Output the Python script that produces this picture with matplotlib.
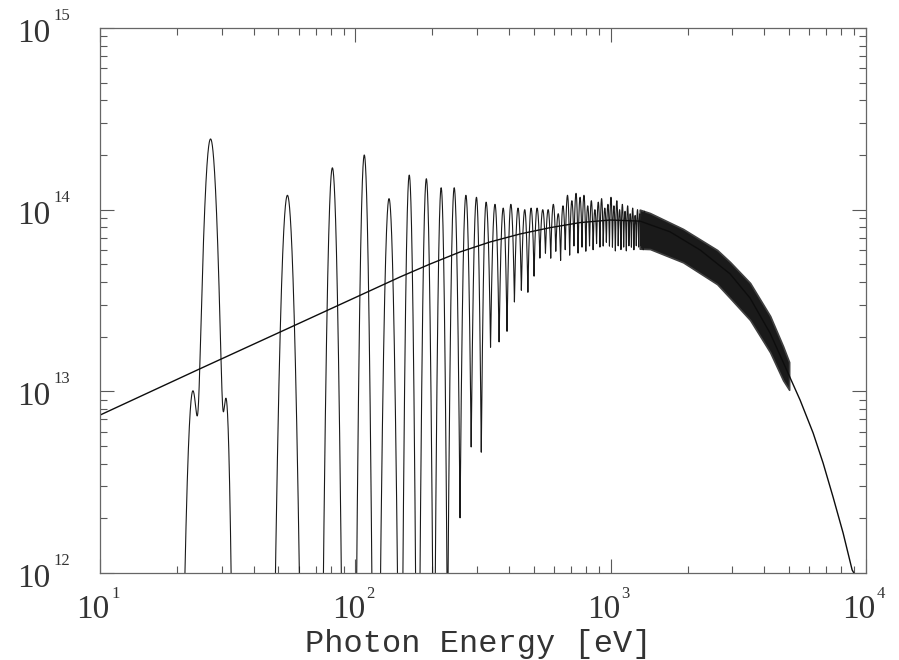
import numpy as np
import matplotlib
matplotlib.use("Agg")
import matplotlib.pyplot as plt
from matplotlib.ticker import LogLocator, NullFormatter

nan = np.nan

# undulator: fundamental photon energy [eV] and the harmonics drawn one by one
e_fund = 27.1
harmonics = np.arange(1, 53)

# peak flux of every harmonic
peak_flux = [2.45e14, 1.20e14, 1.70e14, 2.00e14, 1.15e14, 1.55e14, 1.48e14, 1.32e14, 1.32e14, 1.20e14,
             1.17e14, 1.10e14, 1.07e14, 1.02e14, 1.07e14, 1.02e14, 1.00e14, 1.02e14, 1.02e14, 1.00e14,
             1.00e14, 1.07e14, 9.5e13, 1.05e14, 1.20e14, 1.12e14, 1.23e14, 1.17e14, 1.20e14, 1.05e14,
             1.12e14, 1.00e14, 1.10e14, 1.15e14, 1.02e14, 1.07e14, 1.17e14, 1.05e14, 1.12e14, 1.00e14,
             1.07e14, 9.8e13, 1.05e14, 9.5e13, 1.02e14, 9.3e13, 1.00e14, 9.5e13, 9.1e13, 9.8e13,
             9.3e13, 8.9e13]

# minimum between harmonic n and n+1 (nan = falls below the axis)
trough_flux = [nan, nan, nan, nan, nan, nan, nan, nan, 2.0e12, 4.9e12,
               4.6e12, 1.74e13, 1.86e13, 2.14e13, 3.1e13, 3.6e13, 3.5e13, 4.3e13, 5.4e13, 5.75e13,
               5.4e13, 5.9e13, 5.25e13, 6.0e13, 5.6e13, 6.3e13, 5.75e13, 6.2e13, 5.9e13, 6.3e13,
               6.0e13, 6.5e13, 6.2e13, 6.3e13, 6.6e13, 6.3e13, 6.2e13, 5.9e13, 6.3e13, 6.0e13,
               6.2e13, 5.9e13, 6.3e13, 6.2e13, 6.0e13, 6.3e13, 6.2e13, 6.3e13, 6.0e13, 6.3e13,
               6.2e13, 6.3e13]

# lobe width in decades (flux down by 10x), used where there is no trough
lobe_width = [0.0368, 0.0325, 0.0235, 0.0196, 0.0231, 0.0168, 0.0168, 0.0157, 0.0165] + [0.0176] * 43

# side lobes of the fundamental
side_energy = [23.1, 31.2]
side_flux = [1.0e13, 8.7e12]
side_width = [0.031, 0.020]

# high-energy part of the undulator spectrum: envelope of the harmonics
band_energy = [1300, 1426, 1922, 2613, 2936, 3516, 4212, 4735, 5000]
band_upper = [1.0e14, 9.58e13, 7.83e13, 6.0e13, 5.15e13, 3.95e13, 2.6e13, 1.77e13, 1.45e13]
band_lower = [6.1e13, 6.07e13, 5.13e13, 3.89e13, 3.26e13, 2.47e13, 1.64e13, 1.15e13, 1.02e13]

# bending magnet (smooth) spectrum
sr_energy = [10, 24.6, 60.7, 149.6, 196.2, 257, 337, 442, 579, 759, 995, 1303, 1709, 2240,
             2936, 3516, 4212, 4735, 5520, 6207, 6792, 7430, 8135, 8824, 9311]
sr_flux = [7.4e12, 1.33e13, 2.38e13, 4.26e13, 5.02e13, 5.85e13, 6.64e13, 7.35e13, 7.96e13, 8.49e13,
           8.77e13, 8.65e13, 7.55e13, 6.0e13, 4.43e13, 3.26e13, 2.09e13, 1.45e13, 8.95e12, 5.9e12,
           4.03e12, 2.62e12, 1.66e12, 1.04e12, 9.1e11]


def harmonic_lines(log_e):
    xc = np.log10(harmonics * e_fund)
    lp = np.log10(peak_flux)
    lt = np.log10(trough_flux)
    out = np.full_like(log_e, -np.inf)
    n = len(xc)
    for i in range(n):
        # each half of a lobe is a parabola in log-log, meeting the trough half way
        if i > 0 and not np.isnan(lt[i - 1]):
            h = (xc[i] - xc[i - 1]) / 2
            cl = (lp[i] - lt[i - 1]) / h**2
        else:
            cl = 1 / lobe_width[i]**2
        if not np.isnan(lt[i]):
            j = min(i + 1, n - 1)
            h = (xc[j] - xc[j - 1]) / 2
            cr = (lp[i] - lt[i]) / h**2
        else:
            cr = 1 / lobe_width[i]**2
        dx = log_e - xc[i]
        c = np.where(dx < 0, cl, cr)
        out = np.maximum(out, lp[i] - c * dx**2)
    flux = 10**np.maximum(out, 8)
    for e, f, w in zip(side_energy, side_flux, side_width):
        dx = log_e - np.log10(e)
        flux = flux + f * 10**(-(dx / w)**2)
    return np.maximum(flux, 1e10)


fig = plt.figure(figsize=(8.99, 6.6), dpi=100)
ax = fig.add_axes([100 / 899, 87 / 660, 766 / 899, 545 / 660])

energy = np.logspace(1, np.log10(1420), 40000)
ax.fill_between(band_energy, band_lower, band_upper, color="0.1", lw=1.2, edgecolor="0.25")
ax.plot(energy, harmonic_lines(np.log10(energy)), color="0.1", lw=0.8)
ax.plot(sr_energy, sr_flux, color="0.05", lw=1.0)

ax.set_xscale("log")
ax.set_yscale("log")
ax.set_xlim(10, 1e4)
ax.set_ylim(1e12, 1e15)

for axis in (ax.xaxis, ax.yaxis):
    axis.set_major_locator(LogLocator(base=10, numticks=10))
    axis.set_minor_locator(LogLocator(base=10, subs=np.arange(2, 10), numticks=10))
    axis.set_minor_formatter(NullFormatter())
ax.tick_params(which="both", direction="in", top=True, right=True, color="0.35", width=0.8,
               labelbottom=False, labelleft=False)
ax.tick_params(which="major", length=10)
ax.tick_params(which="minor", length=5)
for s in ax.spines.values():
    s.set_color("0.4")
    s.set_linewidth(0.9)

serif = "Liberation Serif"
# tick labels drawn as "10" with a small exponent
for p in range(1, 5):
    ax.annotate("10", xy=(10**p, 0), xycoords=ax.get_xaxis_transform(), xytext=(-7, -45),
                textcoords="offset pixels", ha="center", va="baseline", fontsize=24, family=serif,
                color="0.2", annotation_clip=False)
    ax.annotate(str(p), xy=(10**p, 0), xycoords=ax.get_xaxis_transform(), xytext=(11, -25),
                textcoords="offset pixels", ha="left", va="baseline", fontsize=12, family=serif,
                color="0.2", annotation_clip=False)
for p in range(12, 16):
    ax.annotate("10", xy=(0, 10**p), xycoords=ax.get_yaxis_transform(), xytext=(-50, -14),
                textcoords="offset pixels", ha="right", va="baseline", fontsize=24, family=serif,
                color="0.2", annotation_clip=False)
    ax.annotate(str(p), xy=(0, 10**p), xycoords=ax.get_yaxis_transform(), xytext=(-47, 8),
                textcoords="offset pixels", ha="left", va="baseline", fontsize=12, family=serif,
                color="0.2", annotation_clip=False)

fig.text(478.5 / 899, 8 / 660, "Photon Energy [eV]", ha="center", va="baseline",
         fontsize=23, family="Liberation Mono", color="0.2")

fig.savefig("out.png", dpi=100)
